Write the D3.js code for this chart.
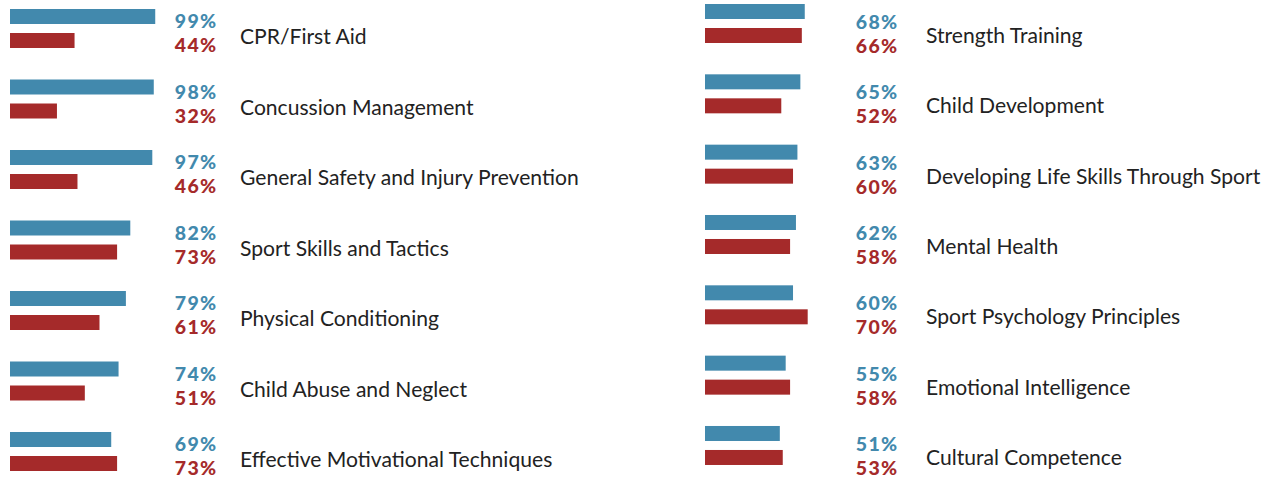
<!DOCTYPE html>
<html><head><meta charset="utf-8">
<script src="https://cdn.jsdelivr.net/npm/d3@7"></script>
<style>body{margin:0;background:#fff}svg{display:block}</style>
</head><body>
<svg id="c" width="1269" height="478"></svg>
<script>
const leftCategories = ["CPR/First Aid","Concussion Management","General Safety and Injury Prevention","Sport Skills and Tactics","Physical Conditioning","Child Abuse and Neglect","Effective Motivational Techniques"];
const leftBlue = [99,98,97,82,79,74,69];
const leftRed = [44,32,46,73,61,51,73];
const rightCategories = ["Strength Training","Child Development","Developing Life Skills Through Sport","Mental Health","Sport Psychology Principles","Emotional Intelligence","Cultural Competence"];
const rightBlue = [68,65,63,62,60,55,51];
const rightRed = [66,52,60,58,70,58,53];

const BLUE = "#4289ad", RED = "#a52a2a";
const svg = d3.select("#c");

function panel(cats, blue, red, o) {
  const g = svg.append("g");
  const x = d3.scaleLinear().domain([0,100]).range([o.x0, o.x0 + 146.7]);
  const y = d3.scaleBand().domain(cats).range([o.y0, o.y0 + o.step*7]).paddingInner(0).paddingOuter(0);
  const rows = g.selectAll("g.row").data(cats.map((c,i)=>({c, b:blue[i], r:red[i]}))).join("g");
  rows.append("rect").attr("x", x(0)).attr("y", d=>y(d.c)).attr("height",15)
    .attr("width", d=>x(d.b)-x(0)).attr("fill",BLUE);
  rows.append("rect").attr("x", x(0)).attr("y", d=>y(d.c)+24).attr("height",15)
    .attr("width", d=>x(d.r)-x(0)).attr("fill",RED);
  const pct = (sel, yoff, col, key) => sel.append("text").attr("x", o.px).attr("y", d=>y(d.c)+yoff)
    .attr("text-anchor","end").attr("fill",col).attr("font-family","Lato").attr("font-weight",900)
    .attr("font-size",19.5).attr("letter-spacing",1.3).text(d=>d[key]+"%");
  pct(rows, o.pb, BLUE, "b");
  pct(rows, o.pb+24, RED, "r");
  rows.append("text").attr("x", o.lx).attr("y", d=>y(d.c)+o.lb)
    .attr("fill","#222").attr("font-family","Lato").attr("font-weight",400).attr("font-size",21.1)
    .text(d=>d.c);
}
panel(leftCategories, leftBlue, leftRed, {x0:10, y0:9, step:70.5, px:217.5, pb:19, lx:240, lb:35});
panel(rightCategories, rightBlue, rightRed, {x0:705, y0:4, step:70.33, px:898.5, pb:25, lx:926, lb:39});
</script>
</body></html>
